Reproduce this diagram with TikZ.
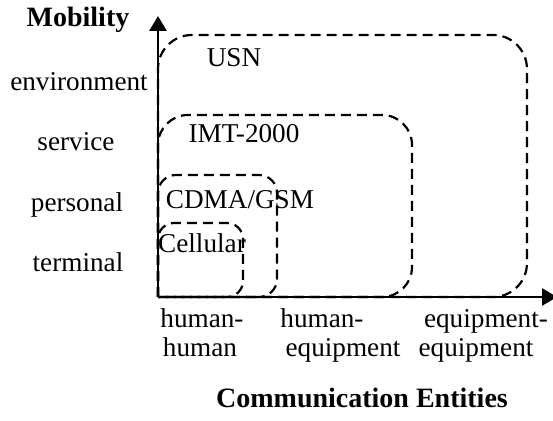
\documentclass[tikz,border=0pt]{standalone}
\usepackage{fontspec}
\setmainfont{Liberation Serif}
\usetikzlibrary{arrows.meta}
\begin{document}
\begin{tikzpicture}[x=0.5pt,y=-0.5pt,
  lbl/.style={inner sep=0pt,anchor=base,font=\fontsize{13.6}{16}\selectfont},
  ttl/.style={inner sep=0pt,anchor=base,font=\fontsize{14}{17}\selectfont\bfseries},
  region/.style={draw,line width=1.1pt,dash pattern=on 5pt off 3pt},
  axis/.style={line width=1.4pt,-{Triangle[length=7.5pt,width=8.5pt]}}]
\useasboundingbox (0,0) rectangle (553,421);
\coordinate (O) at (158,297);
% nested technology regions, open at the origin
\draw[region,rounded corners=17pt] (O) -- (158,35)  -- (527,35)  -- (527,297) -- (O);
\draw[region,rounded corners=15pt] (O) -- (158,115) -- (412,115) -- (412,297) -- (O);
\draw[region,rounded corners=9pt]  (O) -- (158,175) -- (277,175) -- (277,297) -- (O);
\draw[region,rounded corners=8pt]  (O) -- (158,223) -- (243,223) -- (243,297) -- (O);
% axes
\coordinate (ytip) at (158,16);
\coordinate (xtip) at (557,297);
\draw[axis] (O) -- (ytip);
\draw[axis] (O) -- (xtip);
% region labels
\node[lbl] (usn)  at (234,67)  {USN};
\node[lbl] (imt)  at (244,143) {IMT-2000};
\node[lbl] (cdma) at (240,209) {CDMA/GSM};
\node[lbl] (cell) at (202,253) {Cellular};
% vertical axis
\node[ttl] (mob) at (78,27) {Mobility};
\node[lbl] (env) at (79,91)  {environment};
\node[lbl] (svc) at (76,151) {service};
\node[lbl] (per) at (77,212) {personal};
\node[lbl] (ter) at (78,272) {terminal};
% horizontal axis
\node[lbl] (hh1) at (202,328) {human-};
\node[lbl] (hh2) at (200,357) {human};
\node[lbl] (he1) at (322,328) {human-};
\node[lbl] (he2) at (343,357) {equipment};
\node[lbl] (ee1) at (486,328) {equipment-};
\node[lbl] (ee2) at (476,357) {equipment};
\node[ttl] (ent) at (362,408) {Communication Entities};
\end{tikzpicture}
\end{document}
